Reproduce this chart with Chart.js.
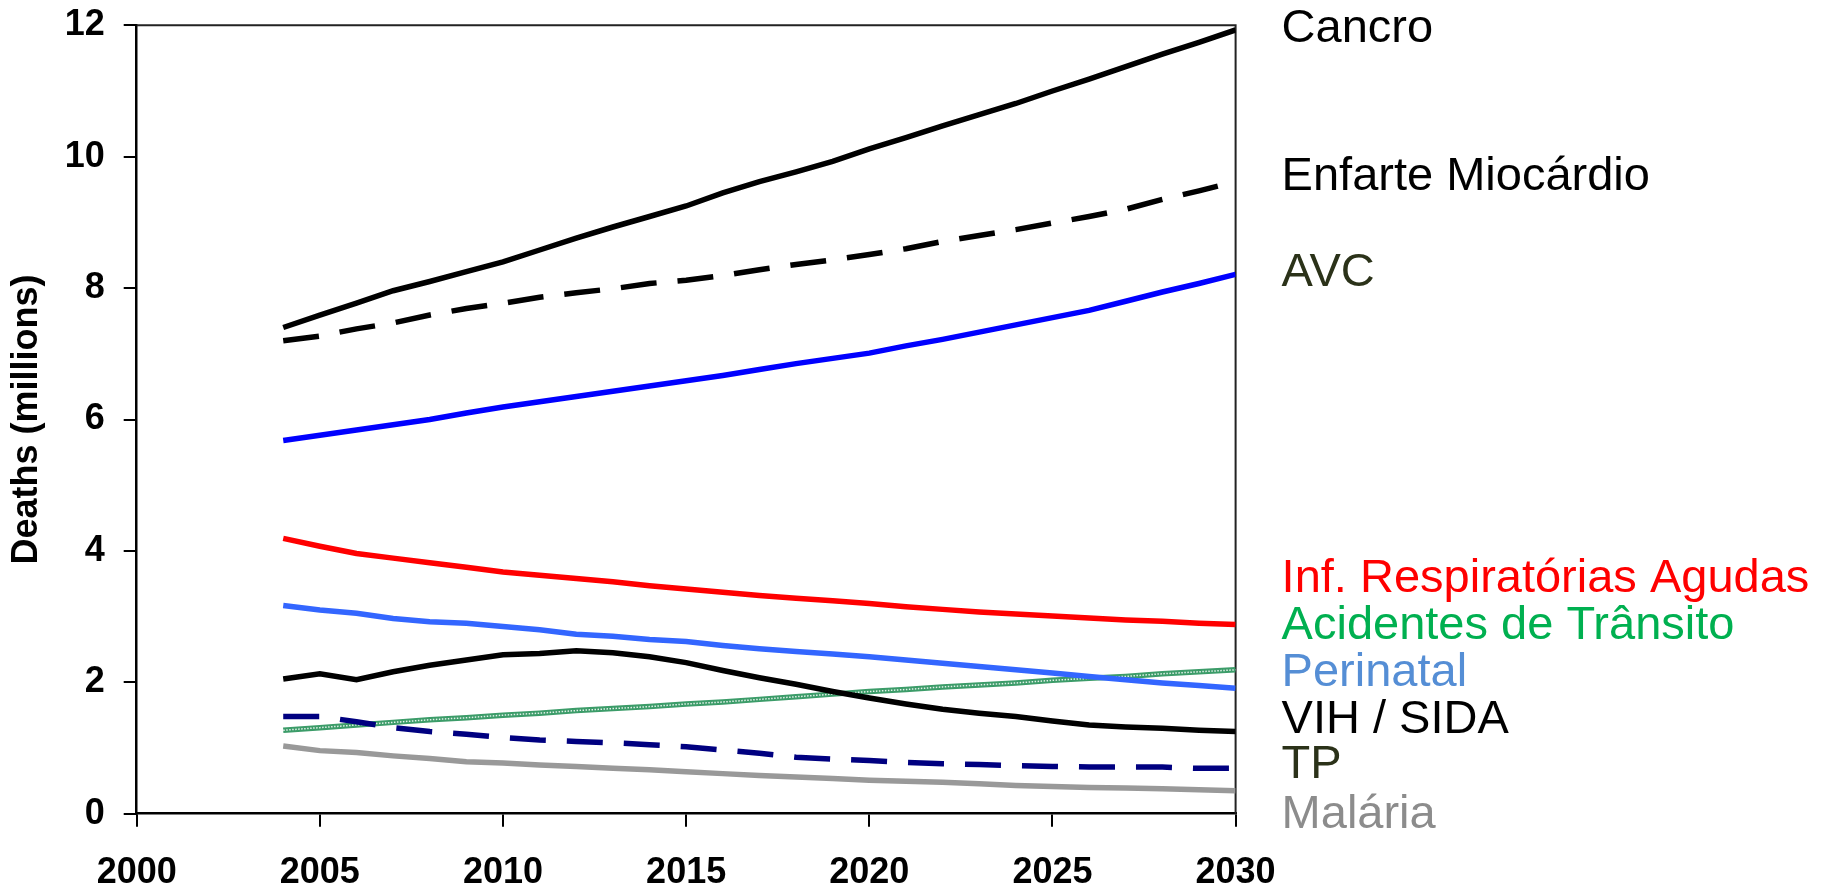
<!DOCTYPE html>
<html>
<head>
<meta charset="utf-8">
<script src="https://cdn.jsdelivr.net/npm/chart.js@4.4.1/dist/chart.umd.min.js"></script>
<style>
  html, body { margin: 0; padding: 0; background: #fff; }
  #wrap { width: 1831px; height: 888px; }
</style>
</head>
<body>
<div id="wrap"><canvas id="grafica" width="1831" height="888"></canvas></div>
<script>
// años
const anos = [2004, 2005, 2006, 2007, 2008, 2009, 2010, 2011, 2012, 2013, 2014, 2015, 2016, 2017,
  2018, 2019, 2020, 2021, 2022, 2023, 2024, 2025, 2026, 2027, 2028, 2029, 2030];

// mortes (milhões)
const cancro = [7.40, 7.59, 7.77, 7.96, 8.10, 8.25, 8.40, 8.58, 8.76, 8.93, 9.09, 9.25, 9.45, 9.62,
  9.77, 9.93, 10.12, 10.29, 10.47, 10.64, 10.81, 11.00, 11.18, 11.37, 11.56, 11.74, 11.93];
const enfarte = [7.20, 7.27, 7.38, 7.47, 7.59, 7.69, 7.77, 7.86, 7.93, 7.99, 8.07, 8.12, 8.19, 8.28,
  8.36, 8.43, 8.51, 8.60, 8.71, 8.80, 8.89, 8.99, 9.09, 9.20, 9.35, 9.48, 9.62];
const avc = [5.68, 5.76, 5.84, 5.92, 6.00, 6.10, 6.19, 6.27, 6.35, 6.43, 6.51, 6.59, 6.67, 6.76,
  6.85, 6.93, 7.01, 7.12, 7.22, 7.33, 7.44, 7.55, 7.66, 7.80, 7.94, 8.07, 8.21];
const infResp = [4.19, 4.07, 3.96, 3.89, 3.82, 3.75, 3.68, 3.63, 3.58, 3.53, 3.47, 3.42, 3.37, 3.32,
  3.28, 3.24, 3.20, 3.15, 3.11, 3.07, 3.04, 3.01, 2.98, 2.95, 2.93, 2.90, 2.88];
const perinatal = [3.17, 3.10, 3.05, 2.97, 2.92, 2.90, 2.85, 2.80, 2.73, 2.70, 2.65, 2.62, 2.56, 2.51,
  2.47, 2.43, 2.39, 2.34, 2.29, 2.24, 2.19, 2.14, 2.09, 2.04, 1.99, 1.95, 1.91];
const vihSida = [2.05, 2.13, 2.04, 2.16, 2.26, 2.34, 2.42, 2.44, 2.48, 2.45, 2.39, 2.30, 2.18, 2.07,
  1.97, 1.86, 1.76, 1.67, 1.59, 1.53, 1.48, 1.41, 1.35, 1.32, 1.30, 1.27, 1.25];
const acidentes = [1.27, 1.31, 1.35, 1.39, 1.43, 1.46, 1.50, 1.53, 1.57, 1.60, 1.63, 1.67, 1.70, 1.74,
  1.78, 1.82, 1.86, 1.89, 1.93, 1.96, 1.99, 2.03, 2.06, 2.09, 2.13, 2.16, 2.19];
const tp = [1.48, 1.48, 1.40, 1.31, 1.25, 1.21, 1.16, 1.12, 1.10, 1.08, 1.05, 1.02, 0.97, 0.92,
  0.86, 0.83, 0.81, 0.78, 0.76, 0.75, 0.73, 0.72, 0.71, 0.71, 0.71, 0.69, 0.69];
const malaria = [1.03, 0.96, 0.93, 0.88, 0.84, 0.79, 0.77, 0.74, 0.72, 0.69, 0.67, 0.64, 0.61, 0.58,
  0.56, 0.535, 0.51, 0.495, 0.48, 0.455, 0.43, 0.415, 0.40, 0.39, 0.38, 0.365, 0.35];

// etiquetas à direita
const nomes = ["Cancro", "Enfarte Miocárdio", "AVC", "Inf. Respiratórias Agudas",
  "Acidentes de Trânsito", "Perinatal", "VIH / SIDA", "TP", "Malária"];
// linha de base de cada etiqueta, em unidades do eixo y
const baseEtiquetas = [11.74, 9.49, 8.03, 3.38, 2.66, 1.95, 1.23, 0.54, -0.22];
const coresEtiquetas = ["#000000", "#000000", "#2b3219", "#ff0000", "#00b050",
  "#558ed5", "#000000", "#2b3219", "#8c8c8c"];

function serie(valores) {
  return valores.map((v, i) => ({ x: anos[i], y: v }));
}

function linha(valores, cor, extra) {
  return Object.assign({
    data: serie(valores),
    borderColor: cor,
    backgroundColor: cor,
    borderWidth: 5.5,
    pointRadius: 0,
    tension: 0,
    fill: false,
    borderCapStyle: "butt",
  }, extra || {});
}

// sem margens extra das escalas
function semMargens(scale) {
  scale.paddingTop = 0;
  scale.paddingBottom = 0;
  scale.paddingLeft = 0;
  scale.paddingRight = 0;
}

const etiquetasPlugin = {
  id: "etiquetas",
  beforeDatasetsDraw(chart) {
    const { ctx, chartArea } = chart;
    ctx.save();
    ctx.strokeStyle = "#222";
    ctx.lineWidth = 2;
    ctx.beginPath();
    ctx.moveTo(chartArea.left, chartArea.top);
    ctx.lineTo(chartArea.right, chartArea.top);
    ctx.lineTo(chartArea.right, chartArea.bottom);
    ctx.stroke();
    ctx.restore();
  },
  afterDatasetDraw(chart, args) {
    // padrão xadrez da linha dos acidentes
    if (!args.meta.dataset || args.meta.dataset.options.borderColor !== "#3c9c69") return;
    const ctx = chart.ctx;
    const pts = args.meta.data;
    ctx.save();
    ctx.strokeStyle = "rgba(255,255,255,0.85)";
    ctx.lineWidth = 1.5;
    ctx.setLineDash([1.5, 1.5]);
    ctx.beginPath();
    pts.forEach((p, i) => (i ? ctx.lineTo(p.x, p.y) : ctx.moveTo(p.x, p.y)));
    ctx.stroke();
    ctx.restore();
  },
  afterDraw(chart) {
    const { ctx, chartArea } = chart;
    const y = chart.scales.y;
    ctx.save();
    ctx.font = "47px 'Liberation Sans', Arial, sans-serif";
    ctx.textAlign = "left";
    ctx.textBaseline = "alphabetic";
    nomes.forEach((nome, i) => {
      ctx.fillStyle = coresEtiquetas[i];
      ctx.fillText(nome, chartArea.right + 46, y.getPixelForValue(baseEtiquetas[i]));
    });
    ctx.restore();
  },
};

new Chart(document.getElementById("grafica"), {
  type: "line",
  data: {
    datasets: [
      linha(cancro, "#000000"),
      linha(enfarte, "#000000", { borderDash: [36, 21] }),
      linha(avc, "#0000ff"),
      linha(infResp, "#ff0000"),
      linha(perinatal, "#3366ff"),
      linha(vihSida, "#000000"),
      linha(tp, "#000080", { borderDash: [36, 21] }),
      linha(acidentes, "#3c9c69"),
      linha(malaria, "#999999"),
    ],
  },
  options: {
    responsive: false,
    animation: false,
    devicePixelRatio: 1,
    layout: { padding: { top: 25.3, right: 595.4, left: 0, bottom: 0 } },
    plugins: {
      legend: { display: false },
      tooltip: { enabled: false },
    },
    scales: {
      x: {
        type: "linear",
        min: 2000,
        max: 2030,
        afterFit(scale) { scale.height = 74.3; semMargens(scale); },
        ticks: {
          stepSize: 5,
          color: "#000",
          padding: 25,
          font: { family: "'Liberation Sans', Arial, sans-serif", size: 36, weight: "bold" },
          callback: (v) => String(v),
        },
        grid: { drawOnChartArea: false, drawTicks: true, tickLength: 13, color: "#000", lineWidth: 2 },
        border: { display: true, color: "#000", width: 2.5 },
      },
      y: {
        min: 0,
        max: 12,
        afterFit(scale) { scale.width = 136.7; semMargens(scale); },
        ticks: {
          stepSize: 2,
          color: "#000",
          padding: 19,
          font: { family: "'Liberation Sans', Arial, sans-serif", size: 36, weight: "bold" },
        },
        grid: { drawOnChartArea: false, drawTicks: true, tickLength: 13, color: "#000", lineWidth: 2 },
        border: { display: true, color: "#000", width: 2.5 },
        title: {
          display: true,
          text: "Deaths (millions)",
          color: "#000",
          padding: { top: 5, bottom: 0 },
          font: { family: "'Liberation Sans', Arial, sans-serif", size: 36, weight: "bold" },
        },
      },
    },
  },
  plugins: [etiquetasPlugin],
});
</script>
</body>
</html>
